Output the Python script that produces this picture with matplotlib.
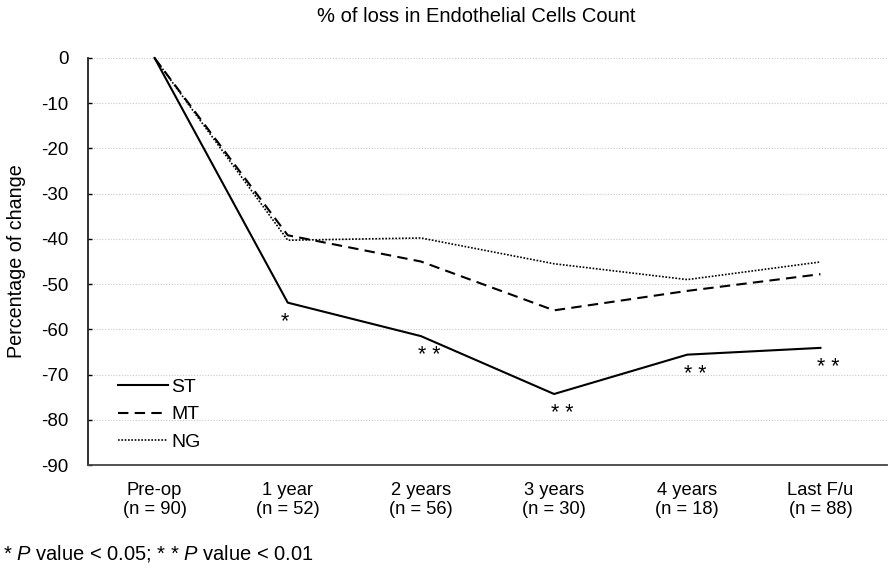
import numpy as np
import matplotlib.pyplot as plt

plt.rcParams['font.family'] = ['Liberation Sans', 'DejaVu Sans']
plt.rcParams['axes.unicode_minus'] = False
plt.rcParams['mathtext.fontset'] = 'custom'
plt.rcParams['mathtext.rm'] = 'Liberation Sans'
plt.rcParams['mathtext.it'] = 'Liberation Sans:italic'

categories = ['Pre-op\n(n = 90)', '1 year\n(n = 52)', '2 years\n(n = 56)',
              '3 years\n(n = 30)', '4 years\n(n = 18)', 'Last F/u\n(n = 88)']
st = [0, -54.1, -61.5, -74.3, -65.6, -64.1]
mt = [0, -39.2, -45.0, -55.8, -51.5, -47.8]
ng = [0, -40.3, -39.8, -45.5, -49.0, -45.1]
stars = ['', '*', '* *', '* *', '* *', '* *']

x = np.arange(len(categories))

fig = plt.figure(figsize=(8.91, 5.68), dpi=100)
ax = fig.add_axes([88/891, 1-465/568, (887-88)/891, (465-58)/568])

ax.plot(x, st, color='black', lw=1.5, ls='-', label='ST', clip_on=False)
ax.plot(x, mt, color='black', lw=1.5, ls=(0, (5, 3)), label='MT', clip_on=False)
ax.plot(x, ng, color='black', lw=1.2, ls=(0, (1, 1)), label='NG', clip_on=False)

for i, s in enumerate(stars):
    if s:
        ax.text(x[i] + (0.06 if len(s) > 1 else -0.02), st[i] - 4.3, s,
                ha='center', va='center', fontsize=15.5)

ax.set_xlim(-0.5, 5.5)
ax.set_ylim(-90, 0)
ax.set_yticks(np.arange(-90, 1, 10))
ax.set_xticks(x)
ax.set_xticklabels(categories, fontsize=13.2, linespacing=1.15)
ax.tick_params(axis='y', labelsize=13.5, length=3, width=1, direction='in', pad=14)
ax.tick_params(axis='x', length=0, pad=12)
ax.yaxis.grid(True, ls=(0, (1, 1.5)), color='#c8c8c8', lw=0.8)
ax.set_axisbelow(True)

ax.spines['top'].set_visible(False)
ax.spines['right'].set_visible(False)
ax.spines['left'].set_color('#222222')
ax.spines['bottom'].set_color('#444444')
ax.spines['left'].set_linewidth(1.3)
ax.spines['bottom'].set_linewidth(1.3)

ax.set_ylabel('Percentage of change', fontsize=14.2, labelpad=11)

leg = ax.legend(loc='lower left', bbox_to_anchor=(0.0375, 0.035), frameon=False,
                borderpad=0, borderaxespad=0, fontsize=14, handlelength=2.55,
                handletextpad=0.2, labelspacing=0.5)

fig.text(476/891, 1-16/568, '% of loss in Endothelial Cells Count',
         ha='center', va='center', fontsize=14.5)
fig.text(3/891, 1-553/568, r'* $\it{P}$ value < 0.05; * * $\it{P}$ value < 0.01',
         ha='left', va='center', fontsize=14.5)

fig.savefig('out.png', dpi=100)
